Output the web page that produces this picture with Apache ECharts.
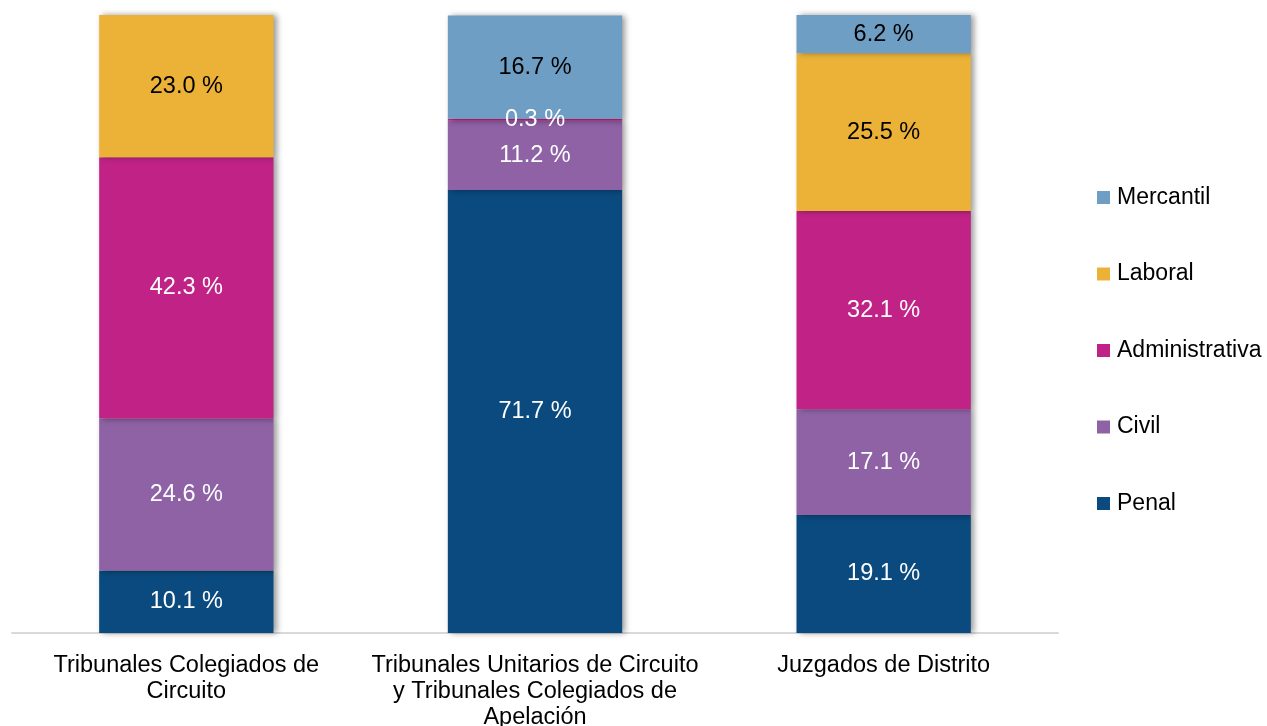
<!DOCTYPE html>
<html>
<head>
<meta charset="utf-8">
<script src="https://cdn.jsdelivr.net/npm/echarts@6/dist/echarts.min.js"></script>
<style>
  html, body { margin: 0; padding: 0; background: #fff; }
  #chart { width: 1267px; height: 726px; }
</style>
</head>
<body>
<div id="chart"></div>
<script>
var categories = [
  'Tribunales Colegiados de\nCircuito',
  'Tribunales Unitarios de Circuito\ny Tribunales Colegiados de\nApelación',
  'Juzgados de Distrito'
]
var penal = [10.1, 71.7, 19.1]
var civil = [24.6, 11.2, 17.1]
var administrativa = [42.3, 0.3, 32.1]
var laboral = [23.0, 0, 25.5]
var mercantil = [0, 16.7, 6.2]

var FONT = 'Liberation Sans, Arial, sans-serif'
var myChart = echarts.init(document.getElementById('chart'))

function serie (name, data, color, textColor) {
  return {
    name: name,
    type: 'bar',
    stack: 'total',
    barWidth: '50%',
    data: data,
    itemStyle: {
      color: color,
      shadowColor: 'rgba(0,0,0,0.4)',
      shadowBlur: 6,
      shadowOffsetX: 3,
      shadowOffsetY: 0
    },
    label: {
      show: true,
      position: 'inside',
      color: textColor,
      fontSize: 23.5,
      fontFamily: FONT,
      formatter: function (p) {
        return p.value > 0 ? p.value.toFixed(1) + ' %' : ''
      }
    }
  }
}

myChart.setOption({
  animation: false,
  grid: { left: 12, right: 209, top: 15, bottom: 93, containLabel: false, outerBoundsMode: 'none' },
  legend: {
    orient: 'vertical',
    left: 1097,
    top: 186,
    padding: 0,
    itemWidth: 13,
    itemHeight: 13,
    itemGap: 53.5,
    icon: 'rect',
    textStyle: { fontSize: 23, color: '#000', fontFamily: FONT, padding: [0, 0, 0, 2] },
    data: ['Mercantil', 'Laboral', 'Administrativa', 'Civil', 'Penal']
  },
  xAxis: {
    type: 'category',
    data: categories,
    axisLine: { lineStyle: { color: '#d9d9d9', width: 2 } },
    axisTick: { show: false },
    axisLabel: {
      interval: 0,
      margin: 20,
      fontSize: 23.5,
      lineHeight: 26,
      color: '#000',
      fontFamily: FONT
    }
  },
  yAxis: {
    type: 'value',
    min: 0,
    max: 100,
    show: false,
    splitLine: { show: false }
  },
  series: [
    serie('Penal', penal, '#0a4a7e', '#fff'),
    serie('Civil', civil, '#8e62a5', '#fff'),
    serie('Administrativa', administrativa, '#c02385', '#fff'),
    serie('Laboral', laboral, '#ecb237', '#000'),
    serie('Mercantil', mercantil, '#6f9ec4', '#000')
  ]
})
</script>
</body>
</html>
